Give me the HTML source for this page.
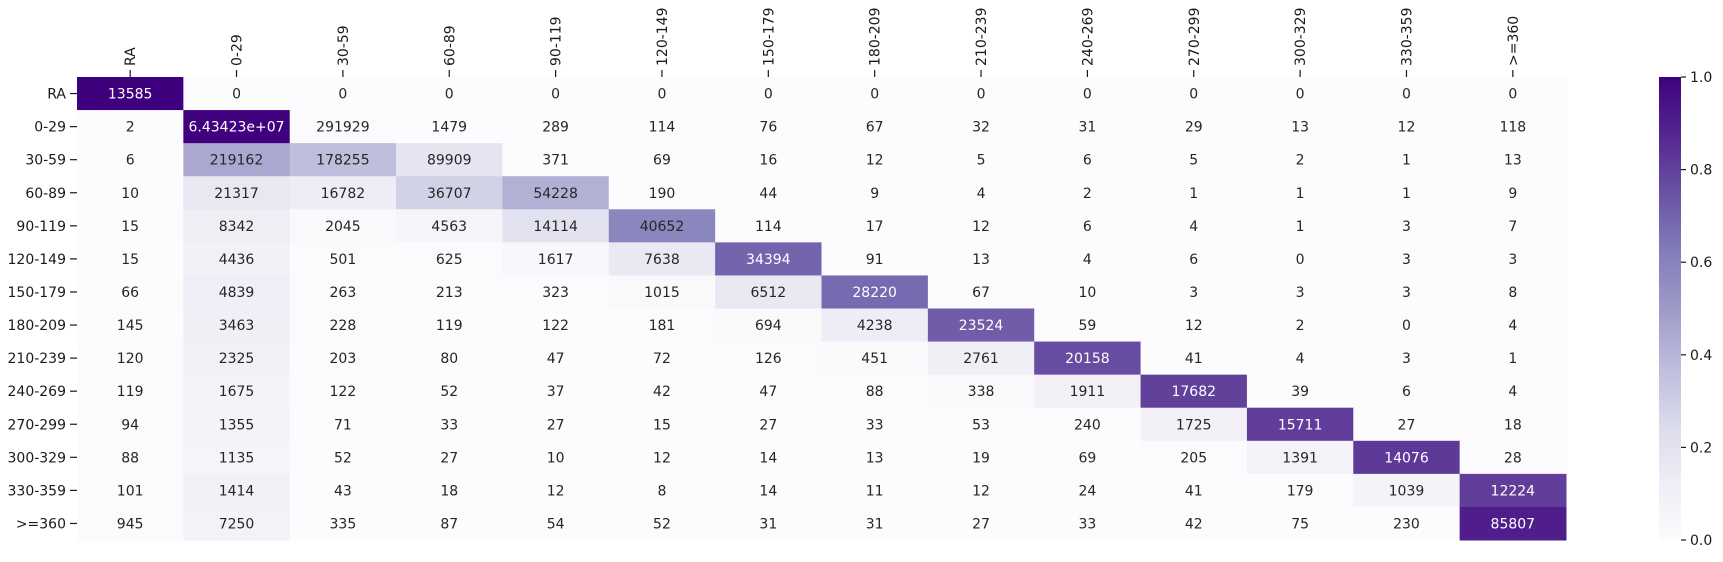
<!DOCTYPE html>
<html><head><meta charset="utf-8"><style>
body{margin:0;background:#fff;}
svg text{font-family:"DejaVu Sans","Liberation Sans",sans-serif;font-size:14px;fill:#1a1a1a;}
</style></head><body>
<svg id="chart" width="1723" height="557" xmlns="http://www.w3.org/2000/svg">
<defs><linearGradient id="cbg" x1="0" y1="1" x2="0" y2="0">
<stop offset="0" stop-color="#fcfbfd"/><stop offset="0.125" stop-color="#efedf5"/><stop offset="0.25" stop-color="#dadaeb"/><stop offset="0.375" stop-color="#bcbddc"/><stop offset="0.5" stop-color="#9e9ac8"/><stop offset="0.625" stop-color="#807dba"/><stop offset="0.75" stop-color="#6a51a3"/><stop offset="0.875" stop-color="#54278f"/><stop offset="1" stop-color="#3f007d"/>
</linearGradient></defs>
</svg>
<script>
const labels=["RA","0-29","30-59","60-89","90-119","120-149","150-179","180-209","210-239","240-269","270-299","300-329","330-359",">=360"];
const row0=[13585,0,0,0,0,0,0,0,0,0,0,0,0,0];
const row1=[2,64342300,291929,1479,289,114,76,67,32,31,29,13,12,118];
const row2=[6,219162,178255,89909,371,69,16,12,5,6,5,2,1,13];
const row3=[10,21317,16782,36707,54228,190,44,9,4,2,1,1,1,9];
const row4=[15,8342,2045,4563,14114,40652,114,17,12,6,4,1,3,7];
const row5=[15,4436,501,625,1617,7638,34394,91,13,4,6,0,3,3];
const row6=[66,4839,263,213,323,1015,6512,28220,67,10,3,3,3,8];
const row7=[145,3463,228,119,122,181,694,4238,23524,59,12,2,0,4];
const row8=[120,2325,203,80,47,72,126,451,2761,20158,41,4,3,1];
const row9=[119,1675,122,52,37,42,47,88,338,1911,17682,39,6,4];
const row10=[94,1355,71,33,27,15,27,33,53,240,1725,15711,27,18];
const row11=[88,1135,52,27,10,12,14,13,19,69,205,1391,14076,28];
const row12=[101,1414,43,18,12,8,14,11,12,24,41,179,1039,12224];
const row13=[945,7250,335,87,54,52,31,31,27,33,42,75,230,85807];
const rows=[row0,row1,row2,row3,row4,row5,row6,row7,row8,row9,row10,row11,row12,row13];
const cbTicks=[0,0.2,0.4,0.6,0.8,1.0];

const NS="http://www.w3.org/2000/svg";
const svg=document.getElementById('chart');
const L=77,R=1566,T=77,B=540;
const cw=(R-L)/labels.length, rh=(B-T)/labels.length;
const xs=i=>L+i*cw, ys=i=>T+i*rh;
const stops=[[252,251,253],[239,237,245],[218,218,235],[188,189,220],[158,154,200],[128,125,186],[106,81,163],[84,39,143],[63,0,125]];
function cmap(v){v=Math.max(0,Math.min(1,v));const p=v*8,i=Math.min(7,Math.floor(p)),f=p-i;const a=stops[i],b=stops[i+1];
 return [0,1,2].map(k=>Math.round(a[k]+(b[k]-a[k])*f));}
function el(t,at){const e=document.createElementNS(NS,t);for(const k in at)e.setAttribute(k,at[k]);svg.appendChild(e);return e;}
function fmt(v){if(v>=1e6){return (v/1e7).toFixed(5).replace(/0+$/,'')+"e+07";}return String(v);}
rows.forEach((r,i)=>{
 const s=r.reduce((a,b)=>a+b,0);
 r.forEach((v,j)=>{
  const f=s?v/s:0;const c=cmap(f);
  const rect=el('rect',{x:xs(j),y:ys(i),width:cw+0.5,height:rh+0.5,fill:`rgb(${c})`});
  
  
  const lum=(0.2126*c[0]+0.7152*c[1]+0.0722*c[2])/255;
  const t=el('text',{x:xs(j)+cw/2,y:ys(i)+rh/2+5,'text-anchor':'middle',style:'fill:'+(lum<0.45?'#fff':'#262626')});
  t.textContent=fmt(v);
  
  
 });
});
labels.forEach((lab,i)=>{
 el('line',{x1:L-7,x2:L,y1:ys(i)+rh/2,y2:ys(i)+rh/2,stroke:'#1a1a1a','stroke-width':1.2});
 const t=el('text',{x:L-11,y:ys(i)+rh/2+5,'text-anchor':'end'});t.textContent=lab;
 
 
 const x=xs(i)+cw/2;
 el('line',{x1:x,x2:x,y1:T-7,y2:T,stroke:'#1a1a1a','stroke-width':1.2});
 const t2=el('text',{x:0,y:0,'text-anchor':'start',transform:`translate(${x+5},${T-11}) rotate(-90)`});t2.textContent=lab;
 
 
});
const cbL=1659,cbW=22;
const cb=el('rect',{x:cbL,y:T,width:cbW,height:B-T,fill:'url(#cbg)'});


cbTicks.forEach(v=>{
 const y=B-v*(B-T);
 el('line',{x1:cbL+cbW,x2:cbL+cbW+5,y1:y,y2:y,stroke:'#1a1a1a','stroke-width':1.2});
 const t=el('text',{x:cbL+cbW+9,y:y+5});t.textContent=v.toFixed(1);
 
 
});
</script>
</body></html>
